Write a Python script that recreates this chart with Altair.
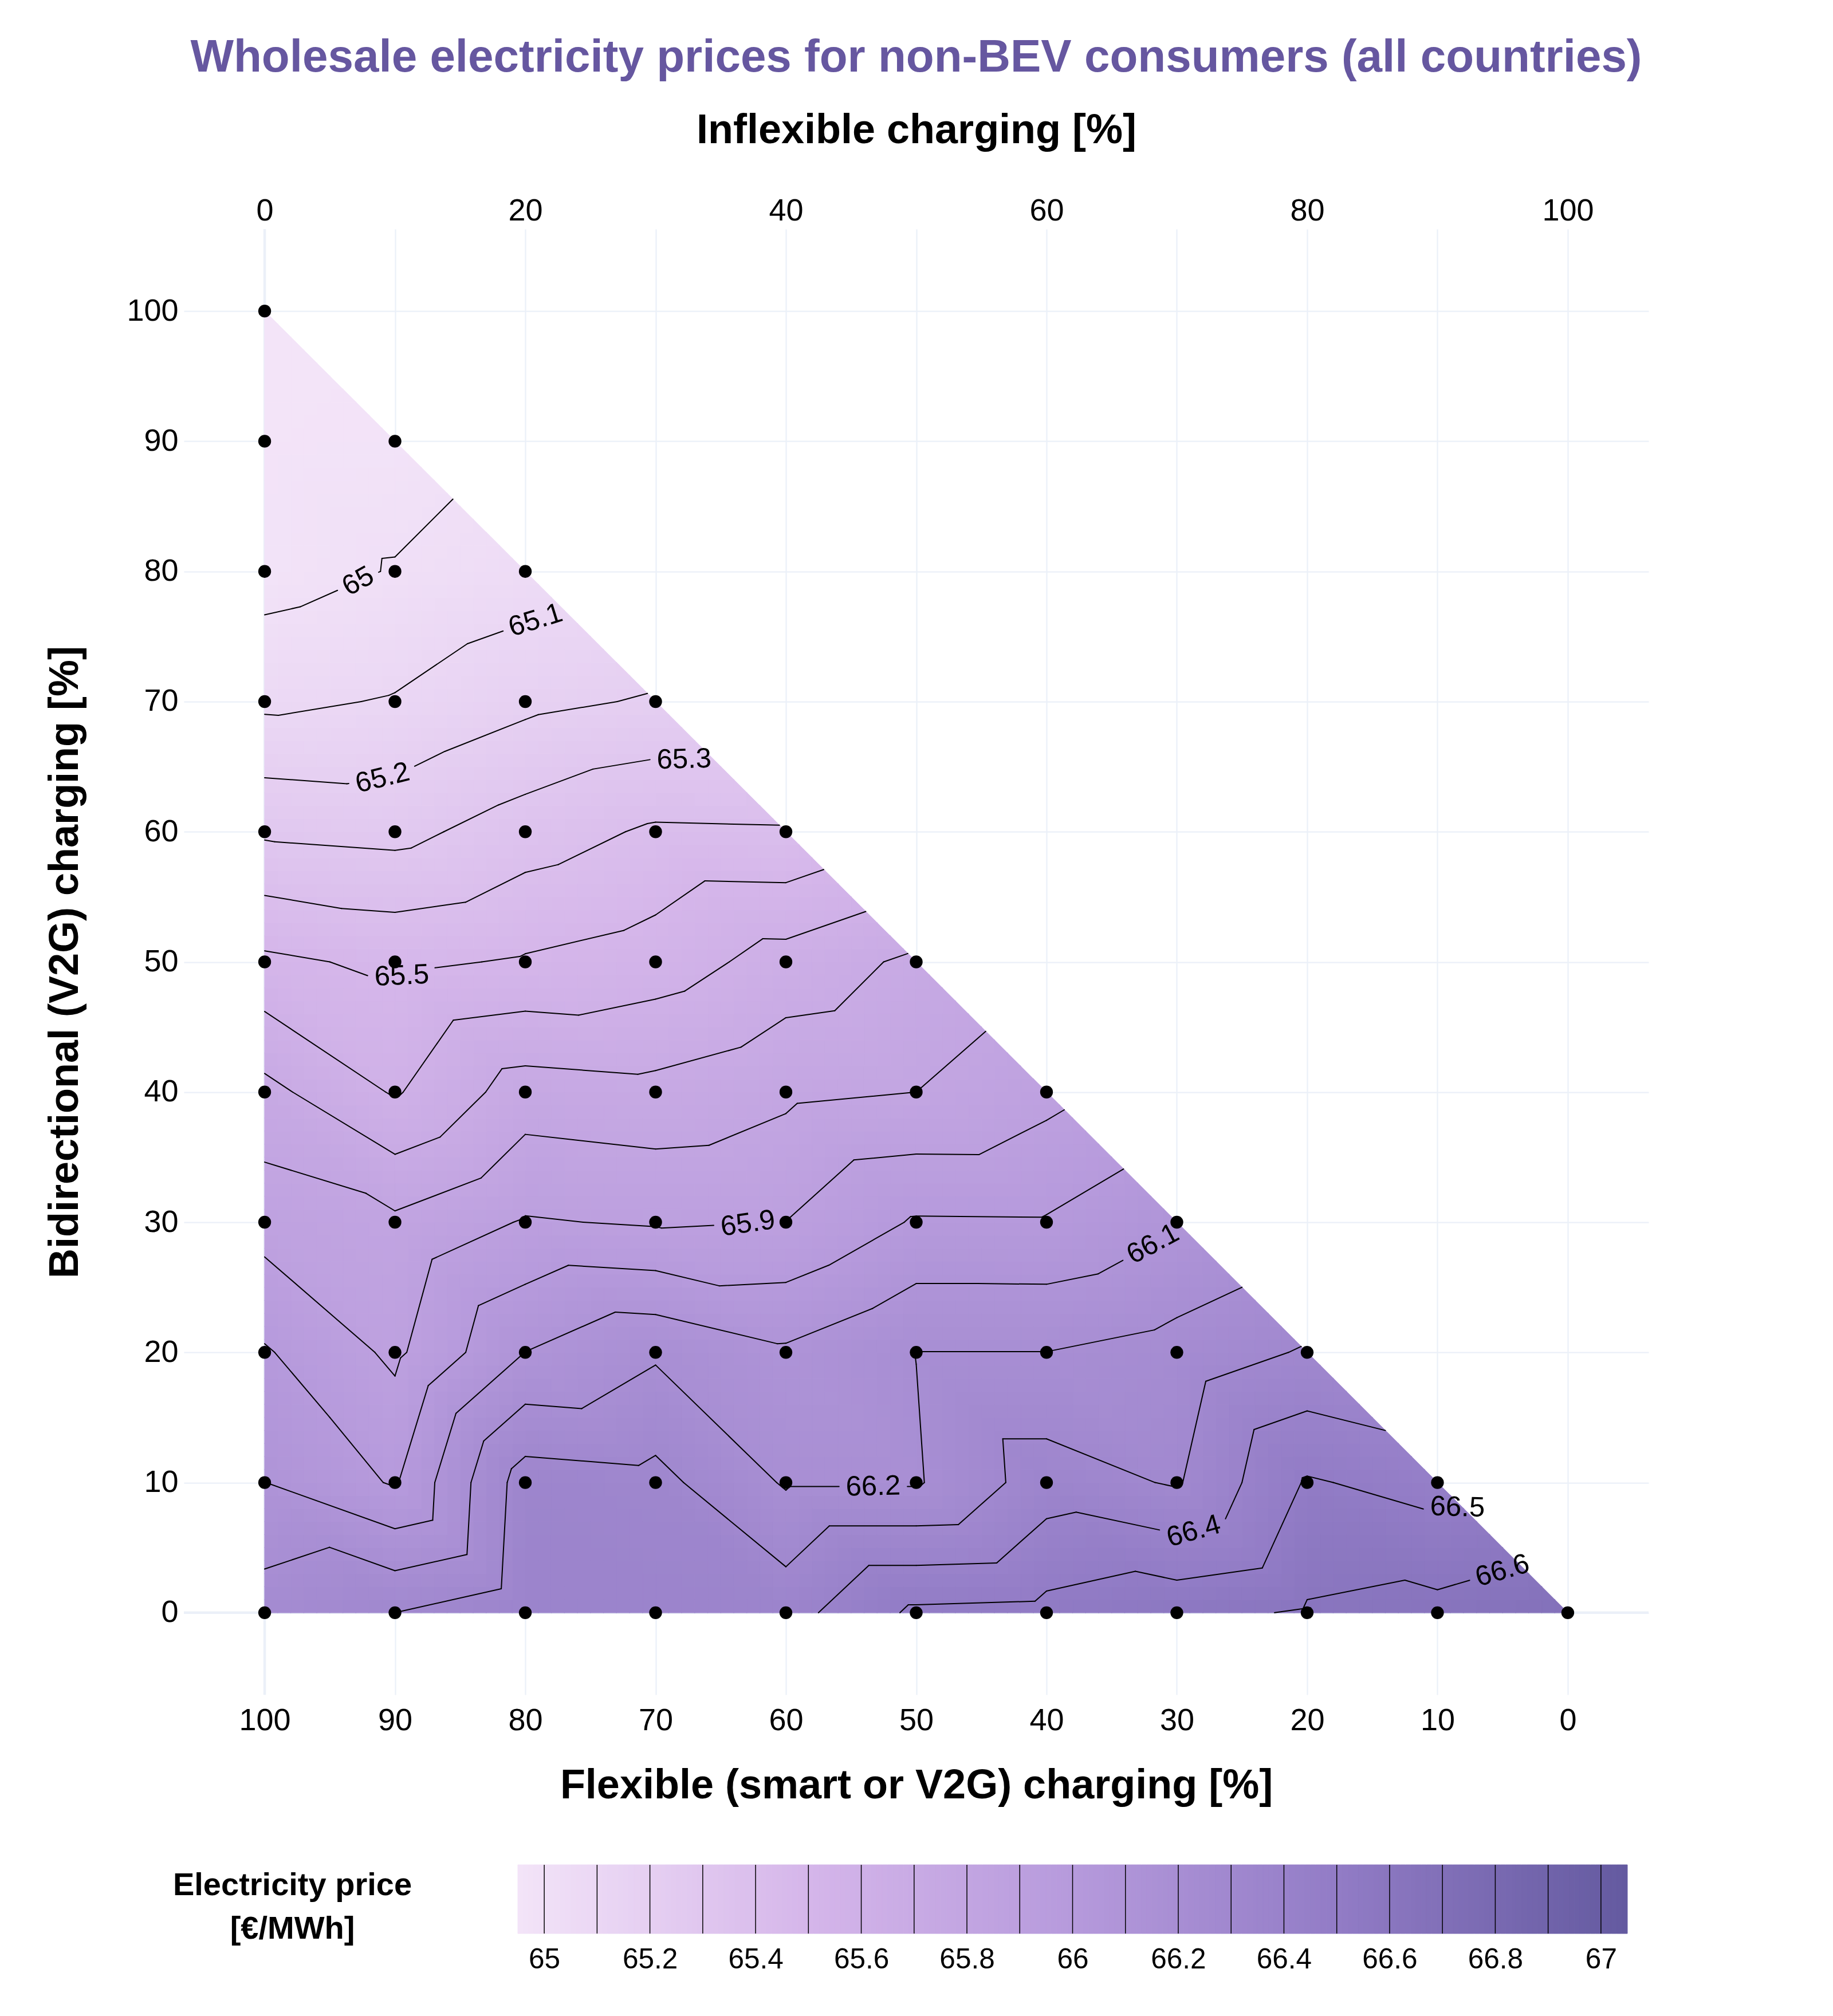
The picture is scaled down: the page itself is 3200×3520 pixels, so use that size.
import math
import altair as alt
import pandas as pd

# ---------------- values ----------------
# Flexible share [%] (x axis, bottom) ; bidirectional share [%] (y axis) runs 0,10,.. up to flexible share
FLEXIBLE = [0, 10, 20, 30, 40, 50, 60, 70, 80, 90, 100]
BIDIR_STEP = 10
# wholesale price [EUR/MWh] per flexible share, listed from bidirectional = 0 upwards
PRICE_FLEX_0 = [66.68]
PRICE_FLEX_10 = [66.63, 66.46]
PRICE_FLEX_20 = [66.61, 66.51, 66.31]
PRICE_FLEX_30 = [66.57, 66.29, 66.24, 66.09]
PRICE_FLEX_40 = [66.53, 66.35, 66.201, 66.008, 65.87]
PRICE_FLEX_50 = [66.52, 66.19, 66.201, 66.01, 65.80, 65.72]
PRICE_FLEX_60 = [66.36, 66.19, 66.115, 65.901, 65.78, 65.64, 65.41]
PRICE_FLEX_70 = [66.37, 66.33, 66.186, 65.89, 65.73, 65.548, 65.415, 65.21]
PRICE_FLEX_80 = [66.37, 66.35, 66.101, 65.908, 65.748, 65.51, 65.35, 65.176, 65.05]
PRICE_FLEX_90 = [66.30, 65.99, 65.88, 65.82, 65.59, 65.48, 65.27, 65.107, 65.005, 64.96]
PRICE_FLEX_100 = [66.25, 66.101, 66.01, 65.86, 65.73, 65.52, 65.285, 65.08, 64.96, 64.955, 64.95]

CONTOUR_LEVELS = [65.0, 65.1, 65.2, 65.3, 65.4, 65.5, 65.6, 65.7, 65.8, 65.9, 66.0,
                  66.1, 66.2, 66.3, 66.4, 66.5, 66.6, 66.7, 66.8, 66.9, 67.0]
# contour labels: level and approximate place (flexible, bidirectional)
LABEL_LEVELS = [65.0, 65.1, 65.2, 65.3, 65.5, 65.9, 66.1, 66.2, 66.4, 66.5, 66.6]
LABEL_FLEX = [92.9, 79.2, 90.9, 67.8, 89.0, 62.9, 31.6, 53.3, 28.6, 8.2, 4.8]
LABEL_BIDIR = [79.4, 76.2, 63.8, 66.0, 48.6, 29.5, 27.9, 7.6, 5.5, 7.2, 2.5]

AXIS_TICKS_BOTTOM = [0, 10, 20, 30, 40, 50, 60, 70, 80, 90, 100]
AXIS_TICKS_TOP = [0, 20, 40, 60, 80, 100]
AXIS_TICKS_Y = [0, 10, 20, 30, 40, 50, 60, 70, 80, 90, 100]
COLORBAR_TICKS = [65.0, 65.2, 65.4, 65.6, 65.8, 66.0, 66.2, 66.4, 66.6, 66.8, 67.0]
PRICE_MIN, PRICE_MAX = 64.95, 67.05
COLOR_STOPS = [64.95, 65.5, 66.0, 66.5, 67.05]
COLOR_RANGE = ["#F3E4F8", "#D5B6EA", "#B69ADC", "#927CC6", "#645AA0"]

TITLE = "Wholesale electricity prices for non-BEV consumers (all countries)"
FONT = "Liberation Sans"

# ---------------- layout (pixels) ----------------
PLOT_W, PLOT_H = 2557, 2559
X_MIN, X_MAX = -6.2, 106.2
Y_MIN, Y_MAX = -6.3, 106.3
CB_LEFT, CB_RIGHT = 583, 2520
CB_TOP, CB_BOTTOM = 2856, 2976
SX = PLOT_W / (X_MAX - X_MIN)
SY = PLOT_H / (Y_MAX - Y_MIN)

COLUMNS = [PRICE_FLEX_0, PRICE_FLEX_10, PRICE_FLEX_20, PRICE_FLEX_30, PRICE_FLEX_40,
           PRICE_FLEX_50, PRICE_FLEX_60, PRICE_FLEX_70, PRICE_FLEX_80, PRICE_FLEX_90,
           PRICE_FLEX_100]
NCOL = len(COLUMNS)


def field(x, y):
    """piecewise-linear value on the triangulated grid"""
    i0 = min(int(x // BIDIR_STEP), NCOL - 2)
    j0 = min(int(y // BIDIR_STEP), i0)
    fx = (x - i0 * BIDIR_STEP) / BIDIR_STEP
    fy = (y - j0 * BIDIR_STEP) / BIDIR_STEP
    v00 = COLUMNS[i0][j0]
    v10 = COLUMNS[i0 + 1][j0]
    v11 = COLUMNS[i0 + 1][j0 + 1]
    if fy <= fx:
        return v00 + fx * (v10 - v00) + fy * (v11 - v10)
    v01 = COLUMNS[i0][j0 + 1]
    return v00 + fy * (v01 - v00) + fx * (v11 - v01)


# points
pts = []
for i, col in enumerate(COLUMNS):
    for j, v in enumerate(col):
        pts.append({"flex": FLEXIBLE[i], "bidir": j * BIDIR_STEP, "v": v})
pts_df = pd.DataFrame(pts)

# raster for the colour field
fx_max = FLEXIBLE[-1]
cells = []
for cx in range(fx_max):
    for cy in range(cx):
        cells.append({"x0": cx, "x1": cx + 1, "y0": cy, "y1": cy + 1,
                      "v": field(cx + 0.5, cy + 0.5)})
cells_df = pd.DataFrame(cells)

tris = []
for cx in range(fx_max):
    v = field(cx + 2.0 / 3.0, cx + 1.0 / 3.0)
    tris.append({"t": cx, "x": cx, "top": cx, "bot": cx, "v": v})
    tris.append({"t": cx, "x": cx + 1, "top": cx + 1, "bot": cx, "v": v})
tris_df = pd.DataFrame(tris)

# contour segments (marching triangles)
triangles = []
for i0 in range(NCOL - 1):
    for j0 in range(i0 + 1):
        triangles.append([(i0, j0), (i0 + 1, j0), (i0 + 1, j0 + 1)])
        if j0 + 1 <= i0:
            triangles.append([(i0, j0), (i0, j0 + 1), (i0 + 1, j0 + 1)])

segs = []
for lvl in CONTOUR_LEVELS:
    for tr in triangles:
        p = [(i * BIDIR_STEP, j * BIDIR_STEP, COLUMNS[i][j]) for i, j in tr]
        cross = []
        for a, b in ((0, 1), (1, 2), (2, 0)):
            xa, ya, va = p[a]
            xb, yb, vb = p[b]
            if (va >= lvl) != (vb >= lvl):
                t = (lvl - va) / (vb - va)
                cross.append((xa + t * (xb - xa), ya + t * (yb - ya)))
        if len(cross) == 2:
            segs.append([lvl, cross[0][0], cross[0][1], cross[1][0], cross[1][1]])


def clip_out(ax, ay, bx, by, cx, cy, r):
    ux, uy = (ax - cx) * SX, (ay - cy) * SY
    dx, dy = (bx - ax) * SX, (by - ay) * SY
    A = dx * dx + dy * dy
    B = 2 * (ux * dx + uy * dy)
    C = ux * ux + uy * uy - r * r
    disc = B * B - 4 * A * C
    if A == 0 or disc <= 0:
        return [(ax, ay, bx, by)]
    sq = math.sqrt(disc)
    t1 = (-B - sq) / (2 * A)
    t2 = (-B + sq) / (2 * A)
    if t1 >= 1 or t2 <= 0:
        return [(ax, ay, bx, by)]
    out = []
    if t1 > 0:
        out.append((ax, ay, ax + t1 * (bx - ax), ay + t1 * (by - ay)))
    if t2 < 1:
        out.append((ax + t2 * (bx - ax), ay + t2 * (by - ay), bx, by))
    return out


def inside_len(ax, ay, bx, by, cx, cy, r):
    """pixel length of the part of a segment inside a circle"""
    total = math.hypot((bx - ax) * SX, (by - ay) * SY)
    outside = sum(math.hypot((q[2] - q[0]) * SX, (q[3] - q[1]) * SY)
                  for q in clip_out(ax, ay, bx, by, cx, cy, r))
    return max(0.0, total - outside)


LABEL_FS = 49
labels = []
for lvl, lx, ly in zip(LABEL_LEVELS, LABEL_FLEX, LABEL_BIDIR):
    best = None
    mine = [s for s in segs if abs(s[0] - lvl) < 1e-9]
    for s in mine:
        ax, ay, bx, by = s[1:]
        dxp, dyp = (bx - ax) * SX, (by - ay) * SY
        L2 = dxp * dxp + dyp * dyp
        if L2 == 0:
            continue
        t = ((lx - ax) * SX * dxp + (ly - ay) * SY * dyp) / L2
        t = max(0.0, min(1.0, t))
        px, py = ax + t * (bx - ax), ay + t * (by - ay)
        d = ((px - lx) * SX) ** 2 + ((py - ly) * SY) ** 2
        if best is None or d < best[0]:
            best = (d, px, py)
    if best is None:
        continue
    _, px, py = best
    text = f"{lvl:g}"
    w = LABEL_FS * sum(0.278 if c == "." else 0.556 for c in text)
    # averaged direction of the contour around the label (screen space)
    sdx, sdy = 0.0, 0.0
    for s in mine:
        ax, ay, bx, by = s[1:]
        wgt = inside_len(ax, ay, bx, by, px, py, w * 0.9)
        if wgt <= 0:
            continue
        ex, ey = -(bx - ax) * SX, -(by - ay) * SY
        if ex < 0:
            ex, ey = -ex, -ey
        n = math.hypot(ex, ey)
        sdx += wgt * ex / n
        sdy += wgt * ey / n
    ang = math.degrees(math.atan2(sdy, sdx))
    if ang > 90:
        ang -= 180
    if ang <= -90:
        ang += 180
    labels.append({"lvl": lvl, "x": px, "y": py, "text": text,
                   "ang": ang % 360, "r": w / 2 + 12})

final = []
for s in segs:
    pieces = [tuple(s[1:])]
    for lab in labels:
        if abs(lab["lvl"] - s[0]) > 1e-9:
            continue
        nxt = []
        for pc in pieces:
            nxt.extend(clip_out(*pc, lab["x"], lab["y"], lab["r"]))
        pieces = nxt
    for pc in pieces:
        final.append({"lvl": s[0], "x1": pc[0], "y1": pc[1], "x2": pc[2], "y2": pc[3]})
seg_df = pd.DataFrame(final)
lab_df = pd.DataFrame(labels)

# colour bar ramp
n_cb = int(round((PRICE_MAX - PRICE_MIN) / 0.01))
cb = [{"a": PRICE_MIN + k * 0.01, "b": PRICE_MIN + (k + 1) * 0.01,
       "v": PRICE_MIN + (k + 0.5) * 0.01} for k in range(n_cb)]
cb_df = pd.DataFrame(cb)
cb_lines_df = pd.DataFrame({"lvl": CONTOUR_LEVELS})

# ---------------- scales / axes ----------------
XS = alt.Scale(domain=[X_MIN, X_MAX], reverse=True, nice=False, zero=False)
YS = alt.Scale(domain=[Y_MIN, Y_MAX], nice=False, zero=False)
CS = alt.Scale(domain=COLOR_STOPS, range=COLOR_RANGE, interpolate="rgb", clamp=True)
GRID = "#EBF0F8"
TICK_FS = 54
AXIS_TITLE_FS = 72

XAXIS = alt.Axis(values=AXIS_TICKS_BOTTOM, title="Flexible (smart or V2G) charging [%]",
                 titleFontSize=AXIS_TITLE_FS, titleFontWeight="bold", titleColor="black",
                 titleY=180, titleBaseline="alphabetic",
                 labelFontSize=TICK_FS, labelColor="black", labelBaseline="alphabetic",
                 labelPadding=61, tickSize=0, ticks=False, domain=False,
                 grid=True, gridColor=GRID, gridWidth=2.25,
                 labelFlush=False, labelOverlap=False)
YAXIS = alt.Axis(values=AXIS_TICKS_Y, title="Bidirectional (V2G) charging [%]",
                 titleFontSize=AXIS_TITLE_FS, titleFontWeight="bold", titleColor="black",
                 titleX=-186, titleBaseline="alphabetic",
                 labelFontSize=TICK_FS, labelColor="black", labelPadding=10,
                 tickSize=0, ticks=False, domain=False,
                 grid=True, gridColor=GRID, gridWidth=2.25,
                 labelFlush=False, labelOverlap=False)


def X(f):
    return alt.X(f, type="quantitative", scale=XS, axis=XAXIS)


def Y(f):
    return alt.Y(f, type="quantitative", scale=YS, axis=YAXIS)


zero_v = alt.Chart(pd.DataFrame({"x": [100]})).mark_rule(
    color=GRID, strokeWidth=4.5).encode(x=X("x"))
zero_h = alt.Chart(pd.DataFrame({"y": [0]})).mark_rule(
    color=GRID, strokeWidth=4.5).encode(y=Y("y"))

raster = alt.Chart(cells_df).mark_rect(strokeWidth=1.2).encode(
    x=X("x0"), x2="x1", y=Y("y0"), y2="y1",
    color=alt.Color("v:Q", scale=CS, legend=None),
    stroke=alt.Stroke("v:Q", scale=CS, legend=None))

edge = alt.Chart(tris_df).mark_area(strokeWidth=1.2).encode(
    x=X("x"), y=Y("top"), y2="bot", detail="t:N",
    color=alt.Color("v:Q", scale=CS, legend=None),
    stroke=alt.Stroke("v:Q", scale=CS, legend=None))

lines = alt.Chart(seg_df).mark_rule(color="black", strokeWidth=2.0, strokeCap="round").encode(
    x=X("x1"), y=Y("y1"), x2="x2", y2="y2")

texts = alt.Chart(lab_df).mark_text(font=FONT, fontSize=LABEL_FS, color="black",
                                    align="center", baseline="middle").encode(
    x=X("x"), y=Y("y"), text="text:N", angle=alt.Angle("ang:Q", scale=None))

dots = alt.Chart(pts_df).mark_circle(size=500, color="black", opacity=1).encode(
    x=X("flex"), y=Y("bidir"))

main = alt.layer(zero_v, zero_h, raster, edge, lines, texts, dots)

top = alt.Chart(pd.DataFrame({"inflex": AXIS_TICKS_TOP})).mark_point(opacity=0).encode(
    x=alt.X("inflex:Q", scale=alt.Scale(domain=[X_MIN, X_MAX], nice=False, zero=False),
            axis=alt.Axis(orient="top", values=AXIS_TICKS_TOP, title="Inflexible charging [%]",
                          titleFontSize=AXIS_TITLE_FS, titleFontWeight="bold", titleColor="black",
                          titleY=-150.5, titleBaseline="alphabetic",
                          labelFontSize=TICK_FS, labelColor="black", labelBaseline="alphabetic",
                          labelPadding=15.4, tickSize=0, ticks=False, domain=False, grid=False,
                          labelFlush=False, labelOverlap=False)),
    y=alt.value(0))

CBS = alt.Scale(domain=[PRICE_MIN, PRICE_MAX], range=[CB_LEFT, CB_RIGHT], nice=False, zero=False)
CBAXIS = alt.Axis(orient="bottom", offset=CB_BOTTOM - PLOT_H, values=COLORBAR_TICKS, format="~g",
                  labelFontSize=49.5, labelColor="black", labelBaseline="alphabetic",
                  labelPadding=60, tickSize=0, ticks=False, domain=False, grid=False,
                  labelFlush=False, labelOverlap=False,
                  title=["Electricity price", "[€/MWh]"], titleFontSize=56,
                  titleFontWeight="bold", titleColor="black", titleX=189, titleY=-68,
                  titleAlign="center", titleAngle=0, titleBaseline="alphabetic",
                  titleLineHeight=76)

cb_rect = alt.Chart(cb_df).mark_rect(strokeWidth=1.0).encode(
    x=alt.X("a:Q", scale=CBS, axis=CBAXIS), x2="b",
    y=alt.value(CB_TOP), y2=alt.value(CB_BOTTOM),
    color=alt.Color("v:Q", scale=CS, legend=None),
    stroke=alt.Stroke("v:Q", scale=CS, legend=None))
cb_rule = alt.Chart(cb_lines_df).mark_rule(color="black", strokeWidth=1.5).encode(
    x=alt.X("lvl:Q", scale=CBS, axis=CBAXIS),
    y=alt.value(CB_TOP), y2=alt.value(CB_BOTTOM))
cbar = alt.layer(cb_rect, cb_rule)

chart = alt.layer(main, top, cbar).resolve_scale(x="independent").properties(
    width=PLOT_W, height=PLOT_H,
    autosize=alt.AutoSizeParams(type="none"),
    padding={"left": 313, "top": 392, "right": 3184 - 313 - PLOT_W, "bottom": 3504 - 392 - PLOT_H},
    title=alt.TitleParams(TITLE, fontSize=80, fontWeight="bold", color="#6657A0", font=FONT,
                          anchor="middle", frame="group", offset=70, dy=83, baseline="alphabetic"),
    background="white",
).configure_view(stroke=None).configure_axis(labelFont=FONT, titleFont=FONT).configure_text(font=FONT)

chart.save("out.html", embed_options={"renderer": "svg", "actions": False})
